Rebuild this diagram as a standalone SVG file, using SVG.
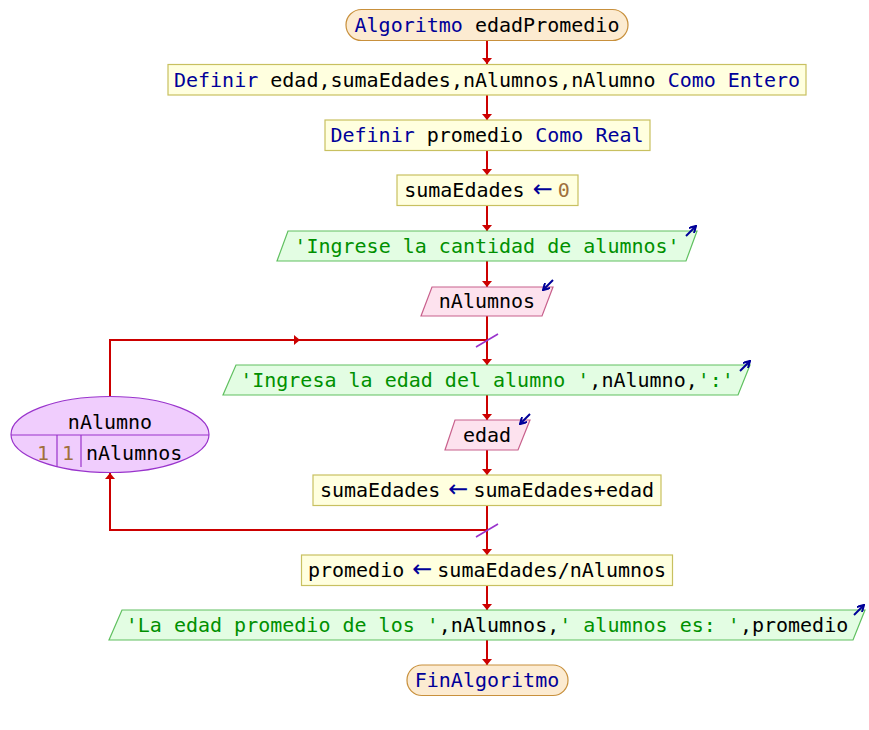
<svg xmlns="http://www.w3.org/2000/svg" width="869" height="730" viewBox="0 0 869 730">
<style>
text{font-family:"DejaVu Sans Mono","Liberation Mono",monospace;font-size:20px;fill:#000}
.c{text-anchor:middle}
.k{fill:#000099}
.s{fill:#009000}
.n{fill:#a0703c}
.op{fill:#000099;font-family:"DejaVu Sans",sans-serif;font-size:24px}
.term{fill:#fcebd1;stroke:#c8903c;stroke-width:1.2}
.proc{fill:#ffffdf;stroke:#c8c060;stroke-width:1.2}
.out{fill:#e3fde3;stroke:#60c060;stroke-width:1.2}
.in{fill:#fde2ee;stroke:#c8608c;stroke-width:1.2}
.loop{fill:#f0cdfd;stroke:#9933cc;stroke-width:1.2}
.sep{stroke:#9933cc;stroke-width:1.2}
.ln{fill:none;stroke:#cc0000;stroke-width:2}
.ah{fill:#cc0000}
.sl{stroke:#9933cc;stroke-width:1.6}
.ic{fill:none;stroke:#000099;stroke-width:2}
</style>
<defs>
<marker id="a" viewBox="0 0 6 10" refX="6" refY="5" markerWidth="6" markerHeight="10" markerUnits="userSpaceOnUse" orient="auto"><path d="M0,0 L6,5 L0,10 z" fill="#cc0000"/></marker>
<marker id="ia" viewBox="0 0 8 8" refX="7" refY="4" markerWidth="8" markerHeight="8" markerUnits="userSpaceOnUse" orient="auto"><path d="M0,0 L7,4 L0,8" fill="none" stroke="#000099" stroke-width="2"/></marker>
</defs>
<g id="connectors">
<path class="ln" d="M487,40 V64" marker-end="url(#a)"/>
<path class="ln" d="M487,95 V120" marker-end="url(#a)"/>
<path class="ln" d="M487,150 V175" marker-end="url(#a)"/>
<path class="ln" d="M487,205 V231" marker-end="url(#a)"/>
<path class="ln" d="M487,261 V287" marker-end="url(#a)"/>
<path class="ln" d="M487,316 V365" marker-end="url(#a)"/>
<path class="ln" d="M110,397 V340 H487"/>
<polygon class="ah" points="300,340 294,335 294,345"/>
<line class="sl" x1="476" y1="347" x2="498" y2="334"/>
<path class="ln" d="M487,395 V420" marker-end="url(#a)"/>
<path class="ln" d="M487,450 V475" marker-end="url(#a)"/>
<path class="ln" d="M487,505 V555" marker-end="url(#a)"/>
<path class="ln" d="M487,530 H110 V473" marker-end="url(#a)"/>
<line class="sl" x1="476" y1="537" x2="498" y2="524"/>
<path class="ln" d="M487,585 V610" marker-end="url(#a)"/>
<path class="ln" d="M487,640 V665" marker-end="url(#a)"/>
</g>
<g id="start">
<rect class="term" x="346" y="9.5" width="282" height="31" rx="15.5"/>
<text class="c" x="487" y="32"><tspan class="k">Algoritmo</tspan> edadPromedio</text>
</g>
<g id="def1">
<rect class="proc" x="168" y="64.5" width="638" height="30.5"/>
<text class="c" x="487" y="87"><tspan class="k">Definir</tspan> edad,sumaEdades,nAlumnos,nAlumno <tspan class="k">Como Entero</tspan></text>
</g>
<g id="def2">
<rect class="proc" x="325" y="120" width="325" height="30.5"/>
<text class="c" x="487" y="142"><tspan class="k">Definir</tspan> promedio <tspan class="k">Como Real</tspan></text>
</g>
<g id="assign0">
<rect class="proc" x="397" y="175" width="181" height="30.5"/>
<text class="c" x="487" y="197">sumaEdades<tspan class="op" dx="8">←</tspan><tspan dx="5" class="n">0</tspan></text>
</g>
<g id="out1">
<polygon class="out" points="288,231 697,231 686,261 277,261"/>
<text class="c s" x="487" y="253">'Ingrese la cantidad de alumnos'</text>
<line class="ic" x1="686" y1="236" x2="696" y2="226" marker-end="url(#ia)"/>
</g>
<g id="in1">
<polygon class="in" points="432,287 553,287 542,316 421,316"/>
<text class="c" x="487" y="308">nAlumnos</text>
<line class="ic" x1="553" y1="280" x2="543" y2="290" marker-end="url(#ia)"/>
</g>
<g id="for">
<ellipse class="loop" cx="110" cy="434.5" rx="99" ry="38"/>
<line class="sep" x1="11" y1="435" x2="209" y2="435"/>
<line class="sep" x1="57" y1="435" x2="57" y2="467"/>
<line class="sep" x1="81" y1="435" x2="81" y2="467"/>
<text class="c" x="110" y="429">nAlumno</text>
<text class="c n" x="43" y="460">1</text>
<text class="c n" x="68" y="460">1</text>
<text x="86" y="460">nAlumnos</text>
</g>
<g id="out2">
<polygon class="out" points="236,365 750,365 738,395 223,395"/>
<text class="c" x="487" y="387"><tspan class="s">'Ingresa la edad del alumno '</tspan>,nAlumno,<tspan class="s">':'</tspan></text>
<line class="ic" x1="740" y1="371" x2="750" y2="361" marker-end="url(#ia)"/>
</g>
<g id="in2">
<polygon class="in" points="455,420 530,420 518,450 445,450"/>
<text class="c" x="487" y="442">edad</text>
<line class="ic" x1="530" y1="414" x2="520" y2="424" marker-end="url(#ia)"/>
</g>
<g id="assign1">
<rect class="proc" x="313" y="475" width="348" height="30.5"/>
<text class="c" x="487" y="497">sumaEdades<tspan class="op" dx="8">←</tspan><tspan dx="5">sumaEdades+edad</tspan></text>
</g>
<g id="assign2">
<rect class="proc" x="301.5" y="555" width="371" height="30.5"/>
<text class="c" x="487" y="577">promedio<tspan class="op" dx="8">←</tspan><tspan dx="5">sumaEdades/nAlumnos</tspan></text>
</g>
<g id="out3">
<polygon class="out" points="122,610 865,610 853,640 109,640"/>
<text class="c" x="487" y="632"><tspan class="s">'La edad promedio de los '</tspan>,nAlumnos,<tspan class="s">' alumnos es: '</tspan>,promedio</text>
<line class="ic" x1="854" y1="615" x2="864" y2="605" marker-end="url(#ia)"/>
</g>
<g id="end">
<rect class="term" x="407" y="665" width="161" height="30.5" rx="15"/>
<text class="c k" x="487" y="687">FinAlgoritmo</text>
</g>
</svg>
